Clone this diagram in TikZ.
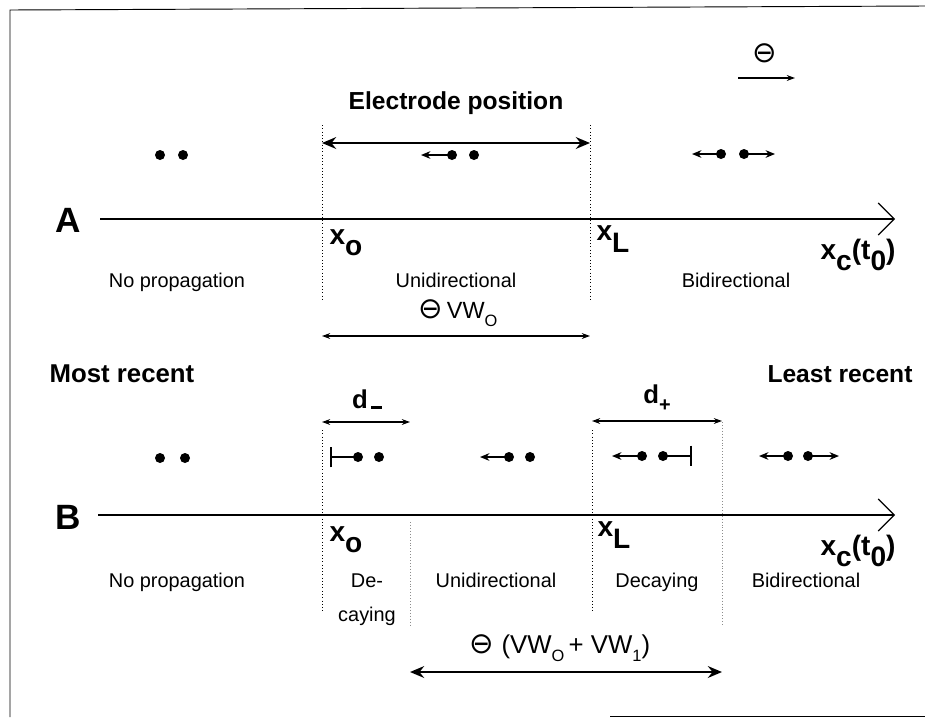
\documentclass[tikz,border=0pt]{standalone}
\usepackage{fontspec}
\setmainfont{Liberation Sans}
\newfontfamily\symfont{DejaVu Sans}
\usetikzlibrary{arrows.meta}

\newcommand{\lowsub}[1]{\raisebox{-0.4em}{#1}}
\newcommand{\smallsub}[1]{\raisebox{-0.3em}{\fontsize{14}{14}\selectfont #1}}
\newcommand{\circminus}{{\symfont\fontsize{25}{25}\selectfont ⊖}}

\begin{document}
\begin{tikzpicture}[x=0.03cm,y=-0.03cm,>=Stealth,
  plaintext/.style={font=\fontsize{17}{20}\selectfont,inner sep=0pt,text height=12pt,text depth=3.5pt},
  heading/.style={font=\bfseries\fontsize{21}{24}\selectfont,inner sep=0pt,text height=15pt,text depth=4pt},
  rowlabel/.style={font=\bfseries\fontsize{30}{32}\selectfont,inner sep=0pt},
  poslabel/.style={font=\bfseries\fontsize{24}{26}\selectfont,inner sep=0pt},
  axisline/.style={line width=1pt,-{Straight Barb[length=0.48cm,width=0.96cm,line width=1pt]}},
  boundary/.style={dotted,line width=0.8pt},
  faintboundary/.style={dotted,line width=0.5pt,black!45},
  drift/.style={line width=1.4pt,-{Stealth[length=8pt,width=6.5pt]}},
  stopped/.style={line width=1.4pt,-{Bar[width=0.62cm,line width=1.5pt]}},
  extent/.style={line width=0.9pt,{Stealth[length=7pt,width=5pt]}-{Stealth[length=7pt,width=5pt]}},
  wideextent/.style={line width=2.4pt,{Stealth[length=12pt,width=10pt]}-{Stealth[length=12pt,width=10pt]}},
]
\useasboundingbox (0,0) rectangle (925,717);

% 枠
\draw[line width=0.8pt] (10,717) -- (10,10) -- (925,6);
\draw[line width=0.6pt] (610,716) -- (925,716);

%--------------------
% A
%--------------------
\begin{scope}
  % 軸
  \node[rowlabel] (labA) at (68,220) {A};
  \coordinate (axA0) at (100,219);
  \coordinate (axA1) at (895,219);
  \draw[axisline] (axA0) -- (axA1);

  % 境界
  \coordinate (x0Atop) at (322,125);
  \coordinate (x0Abot) at (322,302);
  \coordinate (xLAtop) at (590,125);
  \coordinate (xLAbot) at (590,302);
  \draw[boundary] (x0Atop) -- (x0Abot);
  \draw[boundary] (xLAtop) -- (xLAbot);

  % 電極
  \node[heading] (electrode) at (456,103) {Electrode position};
  \coordinate (elecL) at (322,143);
  \coordinate (elecR) at (590,143);
  \draw[wideextent] (elecL) -- (elecR);

  \node[inner sep=0pt] (signA) at (765,53) {\circminus};
  \coordinate (sdirL) at (738,78);
  \coordinate (sdirR) at (795,78);
  \draw[line width=1.1pt,-{Stealth[length=7pt,width=5pt]}] (sdirL) -- (sdirR);

  % 粒子
  \coordinate (pA1) at (160,155);
  \coordinate (pA2) at (183,155);
  \fill (pA1) circle (5);
  \fill (pA2) circle (5);

  \coordinate (pA3) at (452,155);
  \coordinate (qA3) at (421,155);
  \coordinate (pA4) at (474,155);
  \draw[drift] (pA3) -- (qA3);
  \fill (pA3) circle (5);
  \fill (pA4) circle (5);

  \coordinate (pA5) at (721,154);
  \coordinate (qA5) at (692,154);
  \coordinate (pA6) at (744,154);
  \coordinate (qA6) at (775,154);
  \draw[drift] (pA5) -- (qA5);
  \draw[drift] (pA6) -- (qA6);
  \fill (pA5) circle (5);
  \fill (pA6) circle (5);

  % 位置
  \node[poslabel] (x0A) at (346,243) {x\lowsub{o}};
  \node[poslabel] (xLA) at (613,239) {x\lowsub{L}};
  \node[poslabel] (xcA) at (858,255) {x\lowsub{c}(t\lowsub{0})};

  % 領域
  \node[plaintext] (noA) at (177,283) {No propagation};
  \node[plaintext] (uniA) at (456,283) {Unidirectional};
  \node[plaintext] (biA) at (736,283) {Bidirectional};

  \node[plaintext,font=\fontsize{20}{22}\selectfont] (vwA) at (458,314) {\circminus\,VW\smallsub{O}};
  \coordinate (vwL) at (322,336);
  \coordinate (vwR) at (590,336);
  \draw[extent] (vwL) -- (vwR);
\end{scope}

%--------------------
% B
%--------------------
\begin{scope}
  \node[heading,font=\bfseries\fontsize{22}{24}\selectfont] (recent) at (122,376) {Most recent};
  \node[heading] (older) at (840,376) {Least recent};

  % 軸
  \node[rowlabel] (labB) at (68,517) {B};
  \coordinate (axB0) at (98,515);
  \coordinate (axB1) at (895,515);
  \draw[axisline] (axB0) -- (axB1);

  % 境界
  \coordinate (x0Btop) at (322,430);
  \coordinate (x0Bbot) at (322,612);
  \coordinate (xLBtop) at (592,430);
  \coordinate (xLBbot) at (592,612);
  \coordinate (dmBtop) at (410,522);
  \coordinate (dmBbot) at (410,625);
  \coordinate (dpBtop) at (722,422);
  \coordinate (dpBbot) at (722,625);
  \draw[boundary] (x0Btop) -- (x0Bbot);
  \draw[boundary] (xLBtop) -- (xLBbot);
  \draw[faintboundary] (dmBtop) -- (dmBbot);
  \draw[faintboundary] (dpBtop) -- (dpBbot);

  % 減衰幅
  \node[poslabel,font=\bfseries\fontsize{22}{24}\selectfont] (dm) at (367,399)
    {d\kern0.12em\rule[-0.02em]{0.42em}{0.1em}};
  \coordinate (dmL) at (322,422);
  \coordinate (dmR) at (410,422);
  \draw[extent] (dmL) -- (dmR);

  \node[poslabel,font=\bfseries\fontsize{22}{24}\selectfont] (dp) at (657,398)
    {d\raisebox{-0.3em}{\fontsize{17}{17}\selectfont +}};
  \coordinate (dpL) at (592,421);
  \coordinate (dpR) at (722,421);
  \draw[extent] (dpL) -- (dpR);

  % 粒子
  \coordinate (pB1) at (160,458);
  \coordinate (pB2) at (185,458);
  \fill (pB1) circle (5);
  \fill (pB2) circle (5);

  \coordinate (pB3) at (358,457);
  \coordinate (qB3) at (330,457);
  \coordinate (pB4) at (379,457);
  \draw[stopped] (pB3) -- (qB3);
  \fill (pB3) circle (5);
  \fill (pB4) circle (5);

  \coordinate (pB5) at (509,457);
  \coordinate (qB5) at (480,457);
  \coordinate (pB6) at (530,457);
  \draw[drift] (pB5) -- (qB5);
  \fill (pB5) circle (5);
  \fill (pB6) circle (5);

  \coordinate (pB7) at (642,456);
  \coordinate (qB7) at (612,456);
  \coordinate (pB8) at (663,456);
  \coordinate (qB8) at (692,456);
  \draw[drift] (pB7) -- (qB7);
  \draw[stopped] (pB8) -- (qB8);
  \fill (pB7) circle (5);
  \fill (pB8) circle (5);

  \coordinate (pB9) at (788,456);
  \coordinate (qB9) at (759,456);
  \coordinate (pB10) at (808,456);
  \coordinate (qB10) at (839,456);
  \draw[drift] (pB9) -- (qB9);
  \draw[drift] (pB10) -- (qB10);
  \fill (pB9) circle (5);
  \fill (pB10) circle (5);

  % 位置
  \node[poslabel] (x0B) at (346,540) {x\lowsub{o}};
  \node[poslabel] (xLB) at (614,535) {x\lowsub{L}};
  \node[poslabel] (xcB) at (858,551) {x\lowsub{c}(t\lowsub{0})};

  % 領域
  \node[plaintext] (noB) at (177,583) {No propagation};
  \node[plaintext] (decB1) at (367,583) {De-};
  \node[plaintext] (decB2) at (367,617) {caying};
  \node[plaintext] (uniB) at (496,583) {Unidirectional};
  \node[plaintext] (decB) at (657,583) {Decaying};
  \node[plaintext] (biB) at (806,583) {Bidirectional};

  \node[plaintext,font=\fontsize{22}{24}\selectfont] (vwB) at (560,649)
    {\circminus\ (VW\smallsub{O}\,+ VW\smallsub{1})};
  \coordinate (vwBL) at (410,672);
  \coordinate (vwBR) at (722,672);
  \draw[wideextent] (vwBL) -- (vwBR);
\end{scope}

\end{tikzpicture}
\end{document}
